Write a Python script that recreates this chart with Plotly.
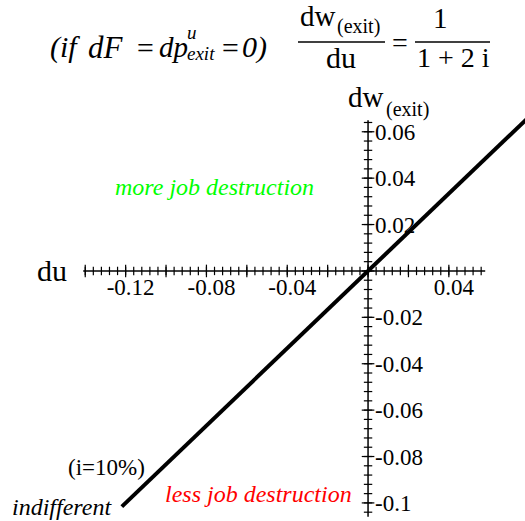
import numpy as np
import plotly.graph_objects as go

W, H = 525, 521
SERIF = "Liberation Serif, Times New Roman, serif"

# line: dw(exit) vs du for i = 10%
du_vals = [-0.1219, 0.08]
dw_vals = [-0.1016, 0.0667]

# axis extents and ticks
x_axis_span = [-0.141, 0.058]
y_axis_span = [-0.106, 0.065]
x_label_vals = [-0.12, -0.08, -0.04, 0.04]
x_label_text = ["-0.12", "-0.08", "-0.04", "0.04"]
y_label_vals = [0.06, 0.04, 0.02, -0.02, -0.04, -0.06, -0.08, -0.1]
y_label_text = ["0.06", "0.04", "0.02", "-0.02", "-0.04", "-0.06", "-0.08", "-0.1"]
x_major = np.round(np.arange(-0.14, 0.0401, 0.02), 3)
x_minor = np.round(np.arange(-0.14, 0.0561, 0.004), 3)
y_major = np.round(np.arange(-0.10, 0.0601, 0.02), 3)
y_minor = np.round(np.arange(-0.104, 0.0641, 0.004), 3)

x_range = [-0.1822, 0.0777]
y_range = [-0.1078, 0.1168]


def px(x):
    return x / W


def py(y):
    return 1 - y / H


fig = go.Figure()

# axis lines
fig.add_trace(go.Scatter(x=x_axis_span, y=[0, 0], mode="lines",
                         line=dict(color="black", width=1.5), hoverinfo="skip"))
fig.add_trace(go.Scatter(x=[0, 0], y=y_axis_span, mode="lines",
                         line=dict(color="black", width=1.5), hoverinfo="skip"))

# tick marks crossing the axes
fig.add_trace(go.Scatter(x=x_minor, y=[0] * len(x_minor), mode="markers",
                         marker=dict(symbol="line-ns", size=6, line=dict(color="black", width=1.2))))
fig.add_trace(go.Scatter(x=x_major, y=[0] * len(x_major), mode="markers",
                         marker=dict(symbol="line-ns", size=9, line=dict(color="black", width=1.2))))
fig.add_trace(go.Scatter(x=[0] * len(y_minor), y=y_minor, mode="markers",
                         marker=dict(symbol="line-ew", size=6, line=dict(color="black", width=1.2))))
fig.add_trace(go.Scatter(x=[0] * len(y_major), y=y_major, mode="markers",
                         marker=dict(symbol="line-ew", size=9, line=dict(color="black", width=1.2))))

# main line
fig.add_trace(go.Scatter(x=du_vals, y=dw_vals, mode="lines",
                         line=dict(color="black", width=4)))

x_pos = (0 - y_range[0]) / (y_range[1] - y_range[0])
y_pos = (0 - x_range[0]) / (x_range[1] - x_range[0])

fig.update_layout(
    width=W, height=H,
    margin=dict(l=0, r=0, t=0, b=0),
    paper_bgcolor="white", plot_bgcolor="white",
    showlegend=False,
    font=dict(family=SERIF, color="black"),
    xaxis=dict(range=x_range, domain=[0, 1], anchor="free", position=x_pos,
               showgrid=False, zeroline=False, showline=False, ticks="",
               tickvals=x_label_vals, ticktext=x_label_text, ticklabelshift=5,
               tickfont=dict(family=SERIF, size=23, color="black")),
    yaxis=dict(range=y_range, domain=[0, 1], anchor="free", position=y_pos, side="right",
               showgrid=False, zeroline=False, showline=False, ticks="",
               tickvals=y_label_vals, ticktext=y_label_text, ticklabelstandoff=6,
               tickfont=dict(family=SERIF, size=23, color="black")),
)


def note(text, x, y, size, color="black", xanchor="left"):
    fig.add_annotation(text=text, x=px(x), y=py(y), xref="paper", yref="paper",
                       xanchor=xanchor, yanchor="middle", showarrow=False,
                       font=dict(family=SERIF, size=size, color=color))


# title formula
note("<i>(if</i>", 48, 47, 30)
note("<i>dF</i>", 86, 47, 31)
note("<i>=</i>", 145, 47, 30, xanchor="center")
note("<i>dp</i>", 157, 47, 29)
note("<i>u</i>", 185, 32, 19)
note("<i>exit</i>", 185, 53, 19)
note("<i>=</i>", 230, 47, 30, xanchor="center")
note("<i>0)</i>", 240, 47, 30)

note("dw", 298, 16, 29)
note("(exit)", 335, 26, 20)
note("du", 341, 58, 30, xanchor="center")
note("=", 400, 43, 28, xanchor="center")
note("1", 440, 18, 29, xanchor="center")
note("1 + 2 i", 453, 58, 28, xanchor="center")
fig.add_shape(type="line", xref="paper", yref="paper", x0=px(298), x1=px(385), y0=py(42), y1=py(42),
              line=dict(color="black", width=1.3))
fig.add_shape(type="line", xref="paper", yref="paper", x0=px(415), x1=px(490), y0=py(42), y1=py(42),
              line=dict(color="black", width=1.3))

# axis names
note("du", 35, 270, 30)
note("dw", 346, 97, 29)
note("(exit)", 384, 109, 20)

# region labels
note("<i>more job destruction</i>", 113, 187, 24, color="#00ff00")
note("<i>less job destruction</i>", 163, 494, 24, color="#ff0000")
note("(i=10%)", 66, 467, 23)
note("<i>indifferent</i>", 10, 507, 24)

fig.write_html("out.html", config={"displayModeBar": False},
               post_script="document.body.style.margin='0px';")
